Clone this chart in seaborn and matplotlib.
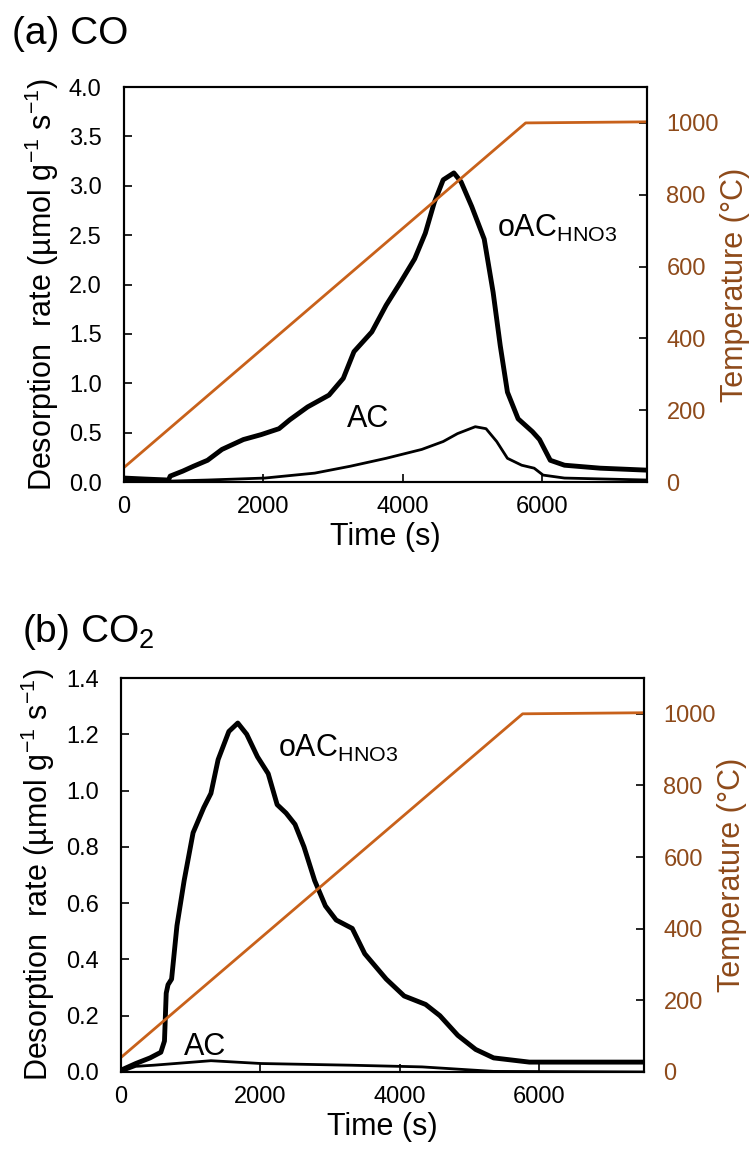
import numpy as np
import pandas as pd
import matplotlib
matplotlib.use('Agg')
import matplotlib.pyplot as plt
import seaborn as sns

#---------------------------------------------------
c_temp='#C8611A'
c_lab='#8E4A1A'

# temperature program (same for both panels)
t_temp=[0, 5760, 7500]
v_temp=[40, 1000, 1003]

# (a) CO, oAC_HNO3
t_co_oac=[0, 300, 640, 665, 844, 1000, 1200, 1407, 1714, 1969, 2225, 2379, 2634, 2941, 3146, 3299, 3555, 3760, 3964, 4169,
	4322, 4450, 4578, 4731, 4834, 4987, 5166, 5294, 5396, 5499, 5652, 5857, 5959, 6113, 6317, 6829, 7500]
v_co_oac=[0.04, 0.03, 0.02, 0.06, 0.11, 0.16, 0.22, 0.33, 0.43, 0.48, 0.54, 0.63, 0.76, 0.88, 1.05, 1.32, 1.52, 1.79, 2.02, 2.26,
	2.52, 2.83, 3.06, 3.13, 3.04, 2.79, 2.46, 1.92, 1.38, 0.91, 0.64, 0.51, 0.43, 0.22, 0.17, 0.14, 0.12]
# (a) CO, AC
t_co_ac=[0, 700, 1200, 2020, 2737, 3248, 3760, 4271, 4578, 4783, 5038, 5192, 5345, 5499, 5703, 5882, 6010, 6317, 7500]
v_co_ac=[0.01, 0.01, 0.02, 0.04, 0.09, 0.16, 0.24, 0.33, 0.41, 0.49, 0.56, 0.54, 0.41, 0.24, 0.17, 0.14, 0.07, 0.04, 0.02]

# (b) CO2, oAC_HNO3
t_co2_oac=[0, 215, 420, 574, 626, 651, 677, 728, 805, 908, 1036, 1190, 1292, 1395, 1549, 1677, 1805, 1959, 2113, 2241,
	2369, 2497, 2626, 2779, 2933, 3087, 3318, 3497, 3805, 4062, 4369, 4574, 4831, 5087, 5344, 5856, 7500]
v_co2_oac=[0.006, 0.03, 0.05, 0.07, 0.11, 0.28, 0.31, 0.33, 0.52, 0.68, 0.85, 0.94, 0.99, 1.11, 1.21, 1.24, 1.20, 1.12, 1.06, 0.95,
	0.92, 0.88, 0.80, 0.68, 0.59, 0.54, 0.51, 0.42, 0.33, 0.27, 0.24, 0.20, 0.13, 0.08, 0.05, 0.035, 0.035]
# (b) CO2, AC
t_co2_ac=[0, 215, 472, 1292, 2010, 3292, 4318, 5344, 7500]
v_co2_ac=[0.0, 0.02, 0.024, 0.04, 0.03, 0.024, 0.018, 0.002, 0.0]

#---------------------------------------------------
sns.set_style('ticks')
plt.rcParams['font.family']=['Liberation Sans', 'DejaVu Sans']
plt.rcParams['mathtext.fontset']='custom'
plt.rcParams['mathtext.rm']='Liberation Sans'
plt.rcParams['mathtext.it']='Liberation Sans:italic'
for k in ['text.color', 'axes.labelcolor', 'xtick.color', 'ytick.color']:
	plt.rcParams[k]='black'

def plt_panel(ax0, df_oac, df_ac, df_t, ymax, ystep, lab_oac, lab_ac):
	sns.lineplot(data=df_oac, x='x', y='data', color='black', lw=3.5, ax=ax0)
	sns.lineplot(data=df_ac, x='x', y='data', color='black', lw=2, ax=ax0)
	ax0.set_xlim(0, 7500)
	ax0.set_ylim(0, ymax)
	ax0.set_xticks([0, 2000, 4000, 6000])
	ax0.set_yticks(np.arange(0, ymax+ystep/2, ystep))
	ax0.yaxis.set_major_formatter(matplotlib.ticker.FormatStrFormatter('%.1f'))
	ax0.tick_params(axis='x', direction='in', length=6, width=1.2, labelsize=17, pad=10)
	ax0.tick_params(axis='y', direction='in', length=6, width=1.2, labelsize=17, pad=16)
	ax0.set_xlabel('Time (s)', fontsize=22, labelpad=3)
	ax0.set_ylabel('Desorption  rate (\u00b5mol g$^{-1}$ s$^{-1}$)', fontsize=22, labelpad=6)
	for s in ax0.spines.values():
		s.set_linewidth(1.5)
		s.set_color('black')
	ax0.text(lab_oac[0], lab_oac[1], 'oAC$_\\mathregular{HNO3}$', fontsize=22, ha='left', va='center')
	ax0.text(lab_ac[0], lab_ac[1], 'AC', fontsize=22, ha='left', va='center')
	#temperature axis
	ax1=ax0.twinx()
	sns.lineplot(data=df_t, x='x', y='data', color=c_temp, lw=2, ax=ax1)
	ax1.set_ylim(0, 1100)
	ax1.set_yticks([0, 200, 400, 600, 800, 1000])
	ax1.tick_params(axis='y', direction='in', length=6, width=1.2, labelsize=17, pad=14, labelcolor=c_lab, color='black')
	ax1.set_ylabel('Temperature (\u00b0C)', fontsize=22, color=c_lab, labelpad=1)
	ax1.set_xlabel('')
	for s in ax1.spines.values():
		s.set_linewidth(1.5)
		s.set_color('black')
	return

def mk_df(t, v):
	return pd.DataFrame({'x': t, 'data': v})

fig=plt.figure(figsize=(7.55, 11.57), dpi=100)
ax_a=fig.add_axes([0.164, 0.5834, 0.693, 0.3414])
ax_b=fig.add_axes([0.160, 0.0735, 0.693, 0.3405])

plt_panel(ax_a, mk_df(t_co_oac, v_co_oac), mk_df(t_co_ac, v_co_ac), mk_df(t_temp, v_temp), 4.0, 0.5, (5350, 2.57), (3200, 0.64))
plt_panel(ax_b, mk_df(t_co2_oac, v_co2_oac), mk_df(t_co2_ac, v_co2_ac), mk_df(t_temp, v_temp), 1.4, 0.2, (2250, 1.15), (900, 0.09))

fig.text(0.016, 0.9706, '(a) CO', fontsize=28, ha='left', va='center')
fig.text(0.029, 0.4538, '(b) CO$_2$', fontsize=28, ha='left', va='center')

plt.savefig('out.png', dpi=100)
plt.close()
